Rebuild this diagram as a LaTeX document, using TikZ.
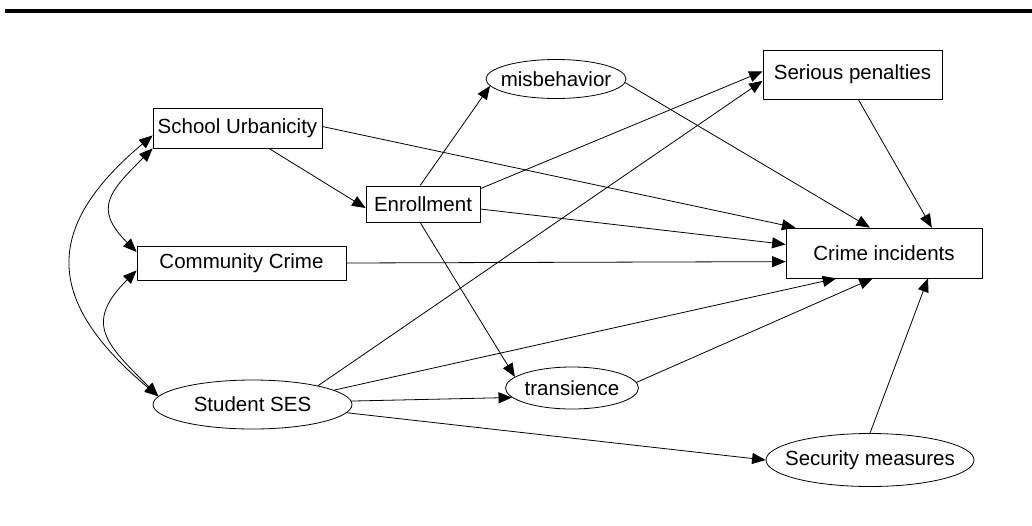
\documentclass[tikz,border=0pt]{standalone}
\usepackage{fontspec}
\setmainfont{Liberation Sans}
\usetikzlibrary{arrows.meta,shapes.geometric}
\newcommand{\lbl}[1]{\makebox[0pt]{#1}}

\begin{document}
\begin{tikzpicture}[line cap=round,line join=round,>={Triangle[length=13.5pt,width=11pt]},x=1pt,y=1pt,
  font=\fontsize{20.5}{24}\selectfont,
  box/.style={draw,line width=0.8pt,inner sep=0pt},
  oval/.style={draw,ellipse,line width=0.8pt,inner sep=0pt},
  link/.style={->,line width=0.8pt},
  covar/.style={<->,line width=0.8pt}]
\useasboundingbox (0,0) rectangle (1032,-525);
\draw [line width=3.5pt,line cap=butt] (5,-11) -- (1032,-11);
\node [box,minimum width=169pt,minimum height=40pt] (urban) at (237.5,-128) {School Urbanicity};
\node [box,minimum width=209pt,minimum height=34pt] (ccrime) at (241.5,-263) {Community Crime};
\node [oval,minimum width=199pt,minimum height=49pt] (ses) at (252.5,-404.5) {\lbl{Student SES}};
\node [box,minimum width=114pt,minimum height=36pt] (enroll) at (423,-204) {Enrollment};
\node [oval,minimum width=140pt,minimum height=39pt] (misbeh) at (556,-79) {\lbl{misbehavior}};
\node [box,minimum width=179pt,minimum height=49pt] (penal) at (852.5,-74.5) {Serious penalties};
\node [box,minimum width=196pt,minimum height=50pt] (incid) at (884,-253) {Crime incidents};
\node [oval,minimum width=133pt,minimum height=42pt] (trans) at (572,-388) {\lbl{transience}};
\node [oval,minimum width=208pt,minimum height=53pt] (secur) at (870,-460) {\lbl{Security measures}};
\draw [covar] (urban.south west) to[out=225,in=135,looseness=1.5] (ccrime.174);
\draw [covar] (urban.185) to[out=220,in=140,looseness=1.43] (ses.175);
\draw [covar] (ccrime.184) to[out=225,in=135,looseness=1.5] (ses.175);
\draw [link] (urban.-33) -- (enroll.184);
\draw [link] (urban.1) -- (incid.164);
\draw [link] (ccrime.east) -- (incid.185);
\draw [link] (enroll.99) -- (misbeh.186);
\draw [link] (enroll.15) -- (penal.178);
\draw [link] (enroll.-5) -- (incid.175);
\draw [link] (enroll.-99) -- (trans.169);
\draw [link] (misbeh.-3) -- (incid.119);
\draw [link] (penal.-77) -- (incid.28);
\draw [link] (ses.16) -- (penal.184);
\draw [link] (ses.10) -- (incid.-152);
\draw [link] (ses.2) -- (trans.189);
\draw [link] (ses.-5) -- (secur.west);
\draw [link] (trans.5) -- (incid.-114);
\draw [link] (secur.north) -- (incid.-30);
\end{tikzpicture}
\end{document}
